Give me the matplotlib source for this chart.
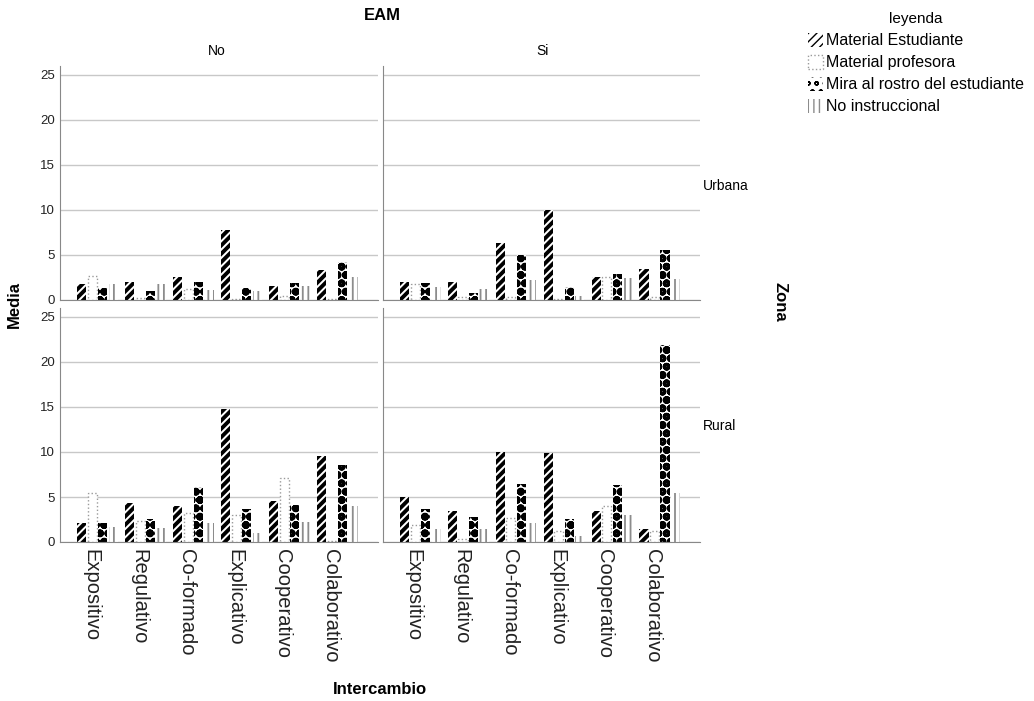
import matplotlib
matplotlib.use("Agg")
import matplotlib.pyplot as plt
import matplotlib.transforms as mtransforms
import numpy as np
from matplotlib.patches import Patch

categories = ["Expositivo", "Regulativo", "Co-formado", "Explicativo", "Cooperativo", "Colaborativo"]
series = ["Material Estudiante", "Material profesora", "Mira al rostro del estudiante", "No instruccional"]
eam_levels = ["No", "Si"]
zona_levels = ["Urbana", "Rural"]

urbana_no_me = [1.8, 2.0, 2.6, 7.8, 1.5, 3.3]
urbana_no_mp = [2.7, 0.2, 1.2, 0.1, 0.4, 0.1]
urbana_no_mira = [1.3, 1.0, 2.0, 1.3, 1.9, 4.2]
urbana_no_ni = [1.8, 1.8, 1.1, 1.0, 1.5, 2.5]

urbana_si_me = [2.0, 2.05, 6.3, 10.0, 2.6, 3.4]
urbana_si_mp = [1.8, 0.3, 0.3, 0.1, 2.5, 0.3]
urbana_si_mira = [1.85, 0.8, 5.0, 1.4, 2.9, 5.5]
urbana_si_ni = [1.4, 1.2, 2.2, 0.4, 2.4, 2.35]

rural_no_me = [2.1, 4.3, 4.0, 14.8, 4.6, 9.55]
rural_no_mp = [5.5, 2.3, 3.2, 3.0, 7.1, 0.1]
rural_no_mira = [2.1, 2.55, 6.15, 3.7, 4.1, 8.6]
rural_no_ni = [1.7, 1.55, 2.1, 1.05, 2.25, 4.0]

rural_si_me = [5.0, 3.4, 10.0, 9.9, 3.4, 1.4]
rural_si_mp = [1.9, 0.3, 2.7, 1.2, 4.05, 1.2]
rural_si_mira = [3.7, 2.8, 6.4, 2.55, 6.3, 21.9]
rural_si_ni = [1.4, 1.4, 2.1, 0.7, 3.0, 5.5]

data = {
    ("Urbana", "No"): [urbana_no_me, urbana_no_mp, urbana_no_mira, urbana_no_ni],
    ("Urbana", "Si"): [urbana_si_me, urbana_si_mp, urbana_si_mira, urbana_si_ni],
    ("Rural", "No"): [rural_no_me, rural_no_mp, rural_no_mira, rural_no_ni],
    ("Rural", "Si"): [rural_si_me, rural_si_mp, rural_si_mira, rural_si_ni],
}

plt.rcParams['font.family'] = ['Liberation Sans', 'DejaVu Sans']
W, H = 1034, 701
fig = plt.figure(figsize=(W / 100, H / 100), dpi=100)

styles = [
    dict(facecolor="white", edgecolor="black", hatch="////", linewidth=0, hlw=2.8),
    dict(facecolor="white", edgecolor="#9a9a9a", hatch=None, linewidth=1.0, linestyle=":", hlw=1.0),
    dict(facecolor="white", edgecolor="black", hatch="oo", linewidth=0, hlw=3.2),
    dict(facecolor="white", edgecolor="#8c8c8c", hatch="|||", linewidth=0, hlw=1.3),
]

panel_x = {"No": (60, 378), "Si": (383, 700)}
panel_y = {"Urbana": (66, 300), "Rural": (308, 542)}

offsets = [-0.33, -0.11, 0.11, 0.33]
bw = 0.19
x = np.arange(len(categories))

def make_bars(ax, xs, vals, st):
    kw = {k: v for k, v in st.items() if k != "hlw"}
    with plt.rc_context({'hatch.linewidth': st["hlw"]}):
        bars = ax.bar(xs, vals, width=bw, **kw)
        for b in bars:
            if hasattr(b, "set_hatch_linewidth"):
                b.set_hatch_linewidth(st["hlw"])
    return bars

shift = mtransforms.ScaledTranslation(-7 / 100, 0, fig.dpi_scale_trans)

for z in zona_levels:
    for e in eam_levels:
        x0, x1 = panel_x[e]
        y0, y1 = panel_y[z]
        ax = fig.add_axes([x0 / W, 1 - y1 / H, (x1 - x0) / W, (y1 - y0) / H])
        for s in range(4):
            make_bars(ax, x + offsets[s], data[(z, e)][s], styles[s])
        ax.set_xlim(-0.78, 5.84)
        ax.set_ylim(0, 26)
        ax.set_yticks([0, 5, 10, 15, 20, 25])
        ax.yaxis.grid(True, color="#c8c8c8", linewidth=1.0)
        ax.set_axisbelow(True)
        for sp in ["top", "right"]:
            ax.spines[sp].set_visible(False)
        ax.spines["left"].set_color("#888888")
        ax.spines["bottom"].set_color("#888888")
        ax.tick_params(axis="both", length=0, labelsize=9.5, colors="#222222")
        if e == "Si":
            ax.set_yticklabels([])
        ax.set_xticks(x)
        if z == "Rural":
            ax.set_xticklabels(categories, rotation=270, fontsize=14.5, va="top", ha="center")
            ax.tick_params(axis="x", pad=5)
            for lbl in ax.get_xticklabels():
                lbl.set_transform(lbl.get_transform() + shift)
        else:
            ax.set_xticklabels([])

fig.text(382 / W, 1 - 16 / H, "EAM", ha="center", va="center", fontsize=12, fontweight="bold")
fig.text(217 / W, 1 - 51 / H, "No", ha="center", va="center", fontsize=10)
fig.text(543 / W, 1 - 51 / H, "Si", ha="center", va="center", fontsize=10)
fig.text(703 / W, 1 - 186 / H, "Urbana", ha="left", va="center", fontsize=10)
fig.text(703 / W, 1 - 426 / H, "Rural", ha="left", va="center", fontsize=10)
fig.text(780 / W, 1 - 302 / H, "Zona", ha="center", va="center", fontsize=12, fontweight="bold", rotation=270)
fig.text(14 / W, 1 - 304 / H, "Media", ha="center", va="center", fontsize=12, fontweight="bold", rotation=90)
fig.text(380 / W, 1 - 690 / H, "Intercambio", ha="center", va="center", fontsize=12, fontweight="bold")

handles = []
for s in range(4):
    st = styles[s]
    kw = {k: v for k, v in st.items() if k not in ("hlw",)}
    handles.append(Patch(**kw))
leg = fig.legend(handles, series, title="leyenda", loc="upper left",
                 bbox_to_anchor=(802 / W, 1 - 6 / H), frameon=False, fontsize=11.5,
                 title_fontsize=11, handlelength=0.9, handleheight=1.0,
                 handletextpad=0.2, labelspacing=0.4, borderaxespad=0)

fig.savefig("out.png", dpi=100, facecolor="white")
